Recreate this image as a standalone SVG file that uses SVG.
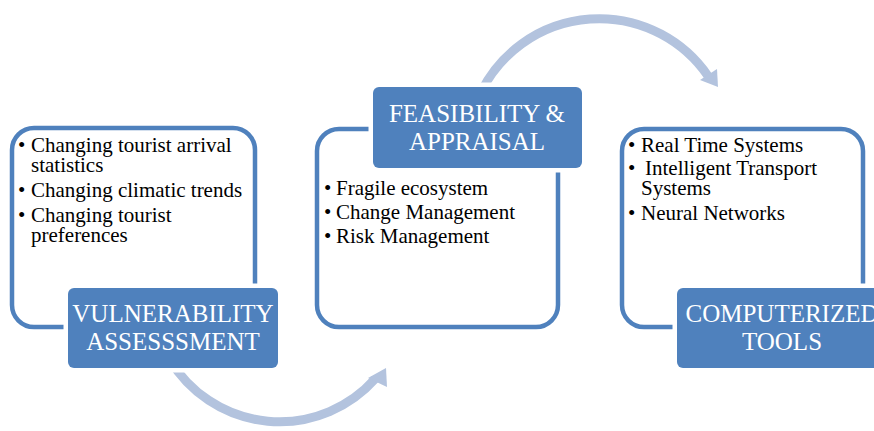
<svg xmlns="http://www.w3.org/2000/svg" width="874" height="431" viewBox="0 0 874 431">
<style>
.frame{fill:#fff;stroke:#4f81bd;stroke-width:4.5}
.label{fill:#4f81bd;stroke:#fff;stroke-width:9;paint-order:stroke}
.lt{font-family:"Liberation Serif",serif;font-size:25px;fill:#fff;text-anchor:middle}
.bt{font-family:"Liberation Serif",serif;font-size:21px;fill:#000}
.arc{fill:none;stroke:#b3c3de;stroke-width:9}
.head{fill:#b3c3de}
</style>
<rect width="874" height="431" fill="#fff"/>
<g id="connectors">
<path class="arc" d="M481,92 A132,132 0 0 1 708,76"/>
<polygon class="head" points="700,80 717,69 718,87"/>
<path class="arc" d="M170,360 A128,128 0 0 0 375,379"/>
<polygon class="head" points="368,378 386,368 387,387"/>
</g>
<g id="vulnerability">
<rect class="frame" x="12" y="128" width="243" height="199" rx="22"/>
<text class="bt" x="18" y="152">•</text>
<text class="bt" x="31" y="152">Changing tourist arrival</text>
<text class="bt" x="31" y="172">statistics</text>
<text class="bt" x="18" y="197">•</text>
<text class="bt" x="31" y="197">Changing climatic trends</text>
<text class="bt" x="18" y="222">•</text>
<text class="bt" x="31" y="222">Changing tourist</text>
<text class="bt" x="31" y="242">preferences</text>
<rect class="label" x="68" y="288" width="210" height="80" rx="6"/>
<text class="lt" x="173" y="322">VULNERABILITY</text>
<text class="lt" x="173" y="350">ASSESSSMENT</text>
</g>
<g id="feasibility">
<rect class="frame" x="317" y="129" width="241" height="198" rx="22"/>
<text class="bt" x="324" y="195">•</text>
<text class="bt" x="336" y="195">Fragile ecosystem</text>
<text class="bt" x="324" y="219">•</text>
<text class="bt" x="336" y="219">Change Management</text>
<text class="bt" x="324" y="243">•</text>
<text class="bt" x="336" y="243">Risk Management</text>
<rect class="label" x="373" y="87" width="209" height="81" rx="6"/>
<text class="lt" x="477" y="122">FEASIBILITY &amp;</text>
<text class="lt" x="477" y="150">APPRAISAL</text>
</g>
<g id="computerized">
<rect class="frame" x="622" y="129" width="241" height="198" rx="22"/>
<text class="bt" x="628" y="152">•</text>
<text class="bt" x="641" y="152">Real Time Systems</text>
<text class="bt" x="628" y="175">•</text>
<text class="bt" x="645" y="175">Intelligent Transport</text>
<text class="bt" x="641" y="195">Systems</text>
<text class="bt" x="628" y="220">•</text>
<text class="bt" x="641" y="220">Neural Networks</text>
<rect class="label" x="677" y="288" width="210" height="80" rx="6"/>
<text class="lt" x="782" y="322">COMPUTERIZED</text>
<text class="lt" x="782" y="350">TOOLS</text>
</g>
</svg>
